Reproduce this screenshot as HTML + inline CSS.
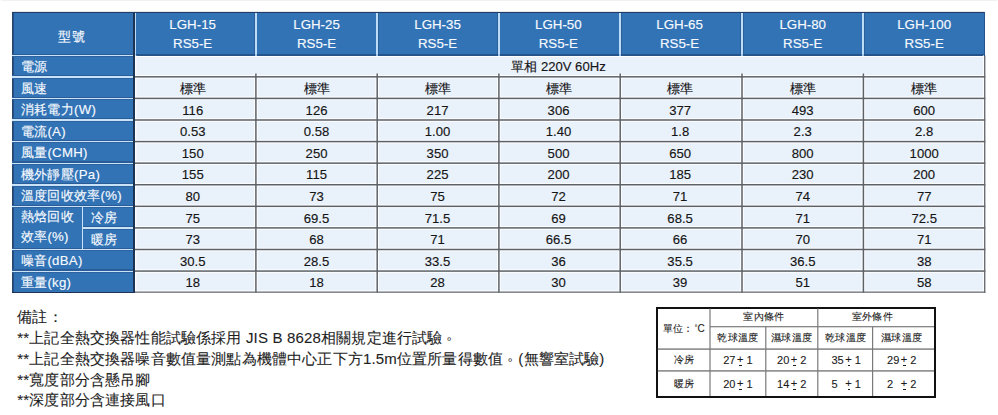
<!DOCTYPE html>
<html><head><meta charset="utf-8"><style>
html,body{margin:0;padding:0;background:#fff;}
body{width:998px;height:415px;position:relative;overflow:hidden;font-family:"Liberation Sans",sans-serif;}
body>div{position:absolute;box-sizing:border-box;}
svg{position:absolute;left:0;top:0;}
.hw{color:#f7faff;-webkit-text-stroke:0.15px #f7faff;}
.dk{color:#151515;-webkit-text-stroke:0.15px #151515;}
.cell{display:flex;align-items:center;font-size:13.1px;white-space:nowrap;}
.lab{font-size:13.2px;letter-spacing:0.3px;}
.c{justify-content:center;}
.hdr{display:flex;align-items:center;justify-content:center;text-align:center;font-size:13.3px;line-height:18.8px;white-space:nowrap;}
.pd{position:relative;left:3.5px;top:-3.8px;}
.note{letter-spacing:0.17px;font-size:15px;color:#1e1e1e;white-space:nowrap;line-height:20px;-webkit-text-stroke:0.1px #1e1e1e;}
.sm{display:flex;align-items:center;justify-content:center;font-size:10px;letter-spacing:0.3px;color:#1a1a1a;white-space:nowrap;-webkit-text-stroke:0.1px #1a1a1a;}
.sm b{font-weight:normal;font-size:11px;letter-spacing:0;}
.pm{position:relative;display:inline-block;margin:0 0 0 1.5px;top:-1.3px;}
.pm i{position:absolute;left:2.3px;width:2.6px;bottom:-1px;height:1px;background:#1a1a1a;}
</style></head><body>
<div style="left:1.00px;top:0.00px;width:996.00px;height:1.00px;background:#f1f1f1;"></div>
<div style="left:12.00px;top:11.00px;width:973.40px;height:1.00px;background:#e8e8e8;"></div>
<div style="left:12.00px;top:12.00px;width:973.40px;height:44.00px;background:#3273b5;"></div>
<div style="left:12.00px;top:55.40px;width:122.60px;height:237.40px;background:#3273b5;"></div>
<div style="left:134.60px;top:56.00px;width:850.80px;height:236.80px;background:#e9f1fb;"></div>
<div style="left:133.00px;top:12.00px;width:3.20px;height:43.40px;background:#2b5f9a;"></div>
<div style="left:133.60px;top:12.00px;width:2.00px;height:43.40px;background:#bcdcf7;"></div>
<div style="left:254.30px;top:12.00px;width:3.20px;height:43.40px;background:#2b5f9a;"></div>
<div style="left:254.90px;top:12.00px;width:2.00px;height:43.40px;background:#bcdcf7;"></div>
<div style="left:375.60px;top:12.00px;width:3.20px;height:43.40px;background:#2b5f9a;"></div>
<div style="left:376.20px;top:12.00px;width:2.00px;height:43.40px;background:#bcdcf7;"></div>
<div style="left:497.30px;top:12.00px;width:3.20px;height:43.40px;background:#2b5f9a;"></div>
<div style="left:497.90px;top:12.00px;width:2.00px;height:43.40px;background:#bcdcf7;"></div>
<div style="left:618.60px;top:12.00px;width:3.20px;height:43.40px;background:#2b5f9a;"></div>
<div style="left:619.20px;top:12.00px;width:2.00px;height:43.40px;background:#bcdcf7;"></div>
<div style="left:740.40px;top:12.00px;width:3.20px;height:43.40px;background:#2b5f9a;"></div>
<div style="left:741.00px;top:12.00px;width:2.00px;height:43.40px;background:#bcdcf7;"></div>
<div style="left:861.80px;top:12.00px;width:3.20px;height:43.40px;background:#2b5f9a;"></div>
<div style="left:862.40px;top:12.00px;width:2.00px;height:43.40px;background:#bcdcf7;"></div>
<div style="left:12.00px;top:54.00px;width:973.40px;height:2.00px;background:#24548a;"></div>
<div style="left:133.60px;top:54.00px;width:2.00px;height:2.00px;background:#9cc6ec;"></div>
<div style="left:254.90px;top:54.00px;width:2.00px;height:2.00px;background:#9cc6ec;"></div>
<div style="left:376.20px;top:54.00px;width:2.00px;height:2.00px;background:#9cc6ec;"></div>
<div style="left:497.90px;top:54.00px;width:2.00px;height:2.00px;background:#9cc6ec;"></div>
<div style="left:619.20px;top:54.00px;width:2.00px;height:2.00px;background:#9cc6ec;"></div>
<div style="left:741.00px;top:54.00px;width:2.00px;height:2.00px;background:#9cc6ec;"></div>
<div style="left:862.40px;top:54.00px;width:2.00px;height:2.00px;background:#9cc6ec;"></div>
<div style="left:12.00px;top:12.00px;width:1.00px;height:280.80px;background:#2a4566;"></div>
<div style="left:13.00px;top:12.00px;width:1.00px;height:280.80px;background:#22508a;"></div>
<div style="left:12.00px;top:53.50px;width:121.20px;height:1.20px;background:#2a5d98;"></div>
<div style="left:12.00px;top:56.10px;width:121.20px;height:1.00px;background:#2d63a0;"></div>
<div style="left:12.00px;top:54.70px;width:121.20px;height:1.40px;background:#c8e3f8;"></div>
<div style="left:12.00px;top:75.08px;width:121.20px;height:1.20px;background:#2a5d98;"></div>
<div style="left:12.00px;top:77.68px;width:121.20px;height:1.00px;background:#2d63a0;"></div>
<div style="left:12.00px;top:76.28px;width:121.20px;height:1.40px;background:#c8e3f8;"></div>
<div style="left:12.00px;top:96.66px;width:121.20px;height:1.20px;background:#2a5d98;"></div>
<div style="left:12.00px;top:99.26px;width:121.20px;height:1.00px;background:#2d63a0;"></div>
<div style="left:12.00px;top:97.86px;width:121.20px;height:1.40px;background:#c8e3f8;"></div>
<div style="left:12.00px;top:118.25px;width:121.20px;height:1.20px;background:#2a5d98;"></div>
<div style="left:12.00px;top:120.85px;width:121.20px;height:1.00px;background:#2d63a0;"></div>
<div style="left:12.00px;top:119.45px;width:121.20px;height:1.40px;background:#c8e3f8;"></div>
<div style="left:12.00px;top:139.83px;width:121.20px;height:1.20px;background:#2a5d98;"></div>
<div style="left:12.00px;top:142.43px;width:121.20px;height:1.00px;background:#2d63a0;"></div>
<div style="left:12.00px;top:141.03px;width:121.20px;height:1.40px;background:#c8e3f8;"></div>
<div style="left:12.00px;top:161.41px;width:121.20px;height:1.20px;background:#2a5d98;"></div>
<div style="left:12.00px;top:164.01px;width:121.20px;height:1.00px;background:#2d63a0;"></div>
<div style="left:12.00px;top:162.61px;width:121.20px;height:1.40px;background:#c8e3f8;"></div>
<div style="left:12.00px;top:182.99px;width:121.20px;height:1.20px;background:#2a5d98;"></div>
<div style="left:12.00px;top:185.59px;width:121.20px;height:1.00px;background:#2d63a0;"></div>
<div style="left:12.00px;top:184.19px;width:121.20px;height:1.40px;background:#c8e3f8;"></div>
<div style="left:12.00px;top:204.57px;width:121.20px;height:1.20px;background:#2a5d98;"></div>
<div style="left:12.00px;top:207.17px;width:121.20px;height:1.00px;background:#2d63a0;"></div>
<div style="left:12.00px;top:205.77px;width:121.20px;height:1.40px;background:#c8e3f8;"></div>
<div style="left:82.30px;top:226.15px;width:50.90px;height:1.20px;background:#2a5d98;"></div>
<div style="left:82.30px;top:228.75px;width:50.90px;height:1.00px;background:#2d63a0;"></div>
<div style="left:82.30px;top:227.35px;width:50.90px;height:1.40px;background:#c8e3f8;"></div>
<div style="left:12.00px;top:247.74px;width:121.20px;height:1.20px;background:#2a5d98;"></div>
<div style="left:12.00px;top:250.34px;width:121.20px;height:1.00px;background:#2d63a0;"></div>
<div style="left:12.00px;top:248.94px;width:121.20px;height:1.40px;background:#c8e3f8;"></div>
<div style="left:12.00px;top:269.32px;width:121.20px;height:1.20px;background:#2a5d98;"></div>
<div style="left:12.00px;top:271.92px;width:121.20px;height:1.00px;background:#2d63a0;"></div>
<div style="left:12.00px;top:270.52px;width:121.20px;height:1.40px;background:#c8e3f8;"></div>
<div style="left:81.60px;top:206.47px;width:1.40px;height:43.16px;background:#c8e3f8;"></div>
<svg width="998" height="415" style="position:absolute;left:0;top:0"><rect x="134.60" y="74.98" width="850.80" height="3.70" fill="#fcfdff"/><rect x="134.60" y="96.56" width="850.80" height="3.70" fill="#fcfdff"/><rect x="134.60" y="118.15" width="850.80" height="3.70" fill="#fcfdff"/><rect x="134.60" y="139.73" width="850.80" height="3.70" fill="#fcfdff"/><rect x="134.60" y="161.31" width="850.80" height="3.70" fill="#fcfdff"/><rect x="134.60" y="182.89" width="850.80" height="3.70" fill="#fcfdff"/><rect x="134.60" y="204.47" width="850.80" height="3.70" fill="#fcfdff"/><rect x="134.60" y="226.05" width="850.80" height="3.70" fill="#fcfdff"/><rect x="134.60" y="247.64" width="850.80" height="3.70" fill="#fcfdff"/><rect x="134.60" y="269.22" width="850.80" height="3.70" fill="#fcfdff"/><rect x="254.05" y="73.48" width="3.70" height="219.32" fill="#fcfdff"/><rect x="375.35" y="73.48" width="3.70" height="219.32" fill="#fcfdff"/><rect x="497.05" y="73.48" width="3.70" height="219.32" fill="#fcfdff"/><rect x="618.35" y="73.48" width="3.70" height="219.32" fill="#fcfdff"/><rect x="740.15" y="73.48" width="3.70" height="219.32" fill="#fcfdff"/><rect x="861.55" y="73.48" width="3.70" height="219.32" fill="#fcfdff"/><rect x="134.60" y="56.00" width="850.80" height="1.00" fill="#ffffff"/><rect x="134.60" y="55.40" width="1.80" height="237.40" fill="#ffffff"/><rect x="982.90" y="55.40" width="2.50" height="237.40" fill="#fcfdff"/><rect x="134.60" y="290.40" width="850.80" height="2.40" fill="#fcfdff"/><rect x="134.10" y="76.08" width="851.30" height="1.50" fill="#5c6268"/><rect x="134.10" y="97.66" width="851.30" height="1.50" fill="#5c6268"/><rect x="134.10" y="119.25" width="851.30" height="1.50" fill="#5c6268"/><rect x="134.10" y="140.83" width="851.30" height="1.50" fill="#5c6268"/><rect x="134.10" y="162.41" width="851.30" height="1.50" fill="#5c6268"/><rect x="134.10" y="183.99" width="851.30" height="1.50" fill="#5c6268"/><rect x="134.10" y="205.57" width="851.30" height="1.50" fill="#5c6268"/><rect x="134.10" y="227.15" width="851.30" height="1.50" fill="#5c6268"/><rect x="134.10" y="248.74" width="851.30" height="1.50" fill="#5c6268"/><rect x="134.10" y="270.32" width="851.30" height="1.50" fill="#5c6268"/><rect x="255.15" y="73.48" width="1.50" height="219.32" fill="#5c6268"/><rect x="376.45" y="73.48" width="1.50" height="219.32" fill="#5c6268"/><rect x="498.15" y="73.48" width="1.50" height="219.32" fill="#5c6268"/><rect x="619.45" y="73.48" width="1.50" height="219.32" fill="#5c6268"/><rect x="741.25" y="73.48" width="1.50" height="219.32" fill="#5c6268"/><rect x="862.65" y="73.48" width="1.50" height="219.32" fill="#5c6268"/><rect x="984.00" y="55.40" width="1.40" height="237.40" fill="#6a6e73"/><rect x="134.60" y="291.50" width="850.80" height="1.30" fill="#6a6e73"/></svg>
<div style="left:133.00px;top:12.50px;width:1.80px;height:280.30px;background:#1c3354;"></div>
<div style="left:12.00px;top:12.00px;width:973.40px;height:1.00px;background:#1f3d66;"></div>
<div style="left:984.40px;top:12.00px;width:1.00px;height:44.00px;background:#24548a;"></div>
<div style="left:12.00px;top:291.80px;width:122.60px;height:1.00px;background:#1c3354;"></div>
<div class="hw cell c lab" style="left:10.30px;top:15.80px;width:122.60px;height:43.40px;">型號</div>
<div class="hw hdr" style="left:132.00px;top:13.00px;width:121.30px;height:43.40px;">LGH-15<br>RS5-E</div>
<div class="hw hdr" style="left:255.90px;top:13.00px;width:121.30px;height:43.40px;">LGH-25<br>RS5-E</div>
<div class="hw hdr" style="left:376.70px;top:13.00px;width:121.70px;height:43.40px;">LGH-35<br>RS5-E</div>
<div class="hw hdr" style="left:497.70px;top:13.00px;width:121.30px;height:43.40px;">LGH-50<br>RS5-E</div>
<div class="hw hdr" style="left:618.70px;top:13.00px;width:121.80px;height:43.40px;">LGH-65<br>RS5-E</div>
<div class="hw hdr" style="left:742.00px;top:13.00px;width:121.40px;height:43.40px;">LGH-80<br>RS5-E</div>
<div class="hw hdr" style="left:863.40px;top:13.00px;width:121.60px;height:43.40px;">LGH-100<br>RS5-E</div>
<div class="hw cell lab" style="left:12.00px;top:56.20px;width:122.60px;height:21.58px;padding-left:8.8px;">電源</div>
<div class="hw cell lab" style="left:12.00px;top:77.78px;width:122.60px;height:21.58px;padding-left:8.8px;">風速</div>
<div class="hw cell lab" style="left:12.00px;top:99.36px;width:122.60px;height:21.58px;padding-left:8.8px;">消耗電力(W)</div>
<div class="hw cell lab" style="left:12.00px;top:120.95px;width:122.60px;height:21.58px;padding-left:8.8px;">電流(A)</div>
<div class="hw cell lab" style="left:12.00px;top:142.53px;width:122.60px;height:21.58px;padding-left:8.8px;">風量(CMH)</div>
<div class="hw cell lab" style="left:12.00px;top:164.11px;width:122.60px;height:21.58px;padding-left:8.8px;">機外靜壓(Pa)</div>
<div class="hw cell lab" style="left:12.00px;top:185.69px;width:122.60px;height:21.58px;padding-left:8.8px;">溫度回收效率(%)</div>
<div class="hw cell lab" style="left:12.00px;top:250.44px;width:122.60px;height:21.58px;padding-left:8.8px;">噪音(dBA)</div>
<div class="hw cell lab" style="left:12.00px;top:272.02px;width:122.60px;height:21.58px;padding-left:8.8px;">重量(kg)</div>
<div class="hw cell lab" style="left:12.00px;top:205.87px;width:70.30px;height:21.58px;padding-left:8.8px;">熱焓回收</div>
<div class="hw cell lab" style="left:12.00px;top:226.55px;width:70.30px;height:21.58px;padding-left:8.8px;">效率(%)</div>
<div class="hw cell lab" style="left:82.30px;top:207.27px;width:52.30px;height:21.58px;padding-left:8.6px;">冷房</div>
<div class="hw cell lab" style="left:82.30px;top:228.85px;width:52.30px;height:21.58px;padding-left:8.6px;">暖房</div>
<div class="dk cell c" style="left:133.10px;top:56.20px;width:850.80px;height:21.58px;">單相 220V 60Hz</div>
<div class="dk cell c" style="left:132.10px;top:77.78px;width:121.30px;height:21.58px;">標準</div>
<div class="dk cell c" style="left:255.90px;top:77.78px;width:121.30px;height:21.58px;">標準</div>
<div class="dk cell c" style="left:376.70px;top:77.78px;width:121.70px;height:21.58px;">標準</div>
<div class="dk cell c" style="left:497.90px;top:77.78px;width:121.30px;height:21.58px;">標準</div>
<div class="dk cell c" style="left:619.20px;top:77.78px;width:121.80px;height:21.58px;">標準</div>
<div class="dk cell c" style="left:742.00px;top:77.78px;width:121.40px;height:21.58px;">標準</div>
<div class="dk cell c" style="left:863.40px;top:77.78px;width:121.60px;height:21.58px;">標準</div>
<div class="dk cell c" style="left:132.10px;top:99.36px;width:121.30px;height:21.58px;">116</div>
<div class="dk cell c" style="left:255.90px;top:99.36px;width:121.30px;height:21.58px;">126</div>
<div class="dk cell c" style="left:376.70px;top:99.36px;width:121.70px;height:21.58px;">217</div>
<div class="dk cell c" style="left:497.90px;top:99.36px;width:121.30px;height:21.58px;">306</div>
<div class="dk cell c" style="left:619.20px;top:99.36px;width:121.80px;height:21.58px;">377</div>
<div class="dk cell c" style="left:742.00px;top:99.36px;width:121.40px;height:21.58px;">493</div>
<div class="dk cell c" style="left:863.40px;top:99.36px;width:121.60px;height:21.58px;">600</div>
<div class="dk cell c" style="left:132.10px;top:120.95px;width:121.30px;height:21.58px;">0.53</div>
<div class="dk cell c" style="left:255.90px;top:120.95px;width:121.30px;height:21.58px;">0.58</div>
<div class="dk cell c" style="left:376.70px;top:120.95px;width:121.70px;height:21.58px;">1.00</div>
<div class="dk cell c" style="left:497.90px;top:120.95px;width:121.30px;height:21.58px;">1.40</div>
<div class="dk cell c" style="left:619.20px;top:120.95px;width:121.80px;height:21.58px;">1.8</div>
<div class="dk cell c" style="left:742.00px;top:120.95px;width:121.40px;height:21.58px;">2.3</div>
<div class="dk cell c" style="left:863.40px;top:120.95px;width:121.60px;height:21.58px;">2.8</div>
<div class="dk cell c" style="left:132.10px;top:142.53px;width:121.30px;height:21.58px;">150</div>
<div class="dk cell c" style="left:255.90px;top:142.53px;width:121.30px;height:21.58px;">250</div>
<div class="dk cell c" style="left:376.70px;top:142.53px;width:121.70px;height:21.58px;">350</div>
<div class="dk cell c" style="left:497.90px;top:142.53px;width:121.30px;height:21.58px;">500</div>
<div class="dk cell c" style="left:619.20px;top:142.53px;width:121.80px;height:21.58px;">650</div>
<div class="dk cell c" style="left:742.00px;top:142.53px;width:121.40px;height:21.58px;">800</div>
<div class="dk cell c" style="left:863.40px;top:142.53px;width:121.60px;height:21.58px;">1000</div>
<div class="dk cell c" style="left:132.10px;top:164.11px;width:121.30px;height:21.58px;">155</div>
<div class="dk cell c" style="left:255.90px;top:164.11px;width:121.30px;height:21.58px;">115</div>
<div class="dk cell c" style="left:376.70px;top:164.11px;width:121.70px;height:21.58px;">225</div>
<div class="dk cell c" style="left:497.90px;top:164.11px;width:121.30px;height:21.58px;">200</div>
<div class="dk cell c" style="left:619.20px;top:164.11px;width:121.80px;height:21.58px;">185</div>
<div class="dk cell c" style="left:742.00px;top:164.11px;width:121.40px;height:21.58px;">230</div>
<div class="dk cell c" style="left:863.40px;top:164.11px;width:121.60px;height:21.58px;">200</div>
<div class="dk cell c" style="left:132.10px;top:185.69px;width:121.30px;height:21.58px;">80</div>
<div class="dk cell c" style="left:255.90px;top:185.69px;width:121.30px;height:21.58px;">73</div>
<div class="dk cell c" style="left:376.70px;top:185.69px;width:121.70px;height:21.58px;">75</div>
<div class="dk cell c" style="left:497.90px;top:185.69px;width:121.30px;height:21.58px;">72</div>
<div class="dk cell c" style="left:619.20px;top:185.69px;width:121.80px;height:21.58px;">71</div>
<div class="dk cell c" style="left:742.00px;top:185.69px;width:121.40px;height:21.58px;">74</div>
<div class="dk cell c" style="left:863.40px;top:185.69px;width:121.60px;height:21.58px;">77</div>
<div class="dk cell c" style="left:132.10px;top:207.27px;width:121.30px;height:21.58px;">75</div>
<div class="dk cell c" style="left:255.90px;top:207.27px;width:121.30px;height:21.58px;">69.5</div>
<div class="dk cell c" style="left:376.70px;top:207.27px;width:121.70px;height:21.58px;">71.5</div>
<div class="dk cell c" style="left:497.90px;top:207.27px;width:121.30px;height:21.58px;">69</div>
<div class="dk cell c" style="left:619.20px;top:207.27px;width:121.80px;height:21.58px;">68.5</div>
<div class="dk cell c" style="left:742.00px;top:207.27px;width:121.40px;height:21.58px;">71</div>
<div class="dk cell c" style="left:863.40px;top:207.27px;width:121.60px;height:21.58px;">72.5</div>
<div class="dk cell c" style="left:132.10px;top:228.85px;width:121.30px;height:21.58px;">73</div>
<div class="dk cell c" style="left:255.90px;top:228.85px;width:121.30px;height:21.58px;">68</div>
<div class="dk cell c" style="left:376.70px;top:228.85px;width:121.70px;height:21.58px;">71</div>
<div class="dk cell c" style="left:497.90px;top:228.85px;width:121.30px;height:21.58px;">66.5</div>
<div class="dk cell c" style="left:619.20px;top:228.85px;width:121.80px;height:21.58px;">66</div>
<div class="dk cell c" style="left:742.00px;top:228.85px;width:121.40px;height:21.58px;">70</div>
<div class="dk cell c" style="left:863.40px;top:228.85px;width:121.60px;height:21.58px;">71</div>
<div class="dk cell c" style="left:132.10px;top:250.44px;width:121.30px;height:21.58px;">30.5</div>
<div class="dk cell c" style="left:255.90px;top:250.44px;width:121.30px;height:21.58px;">28.5</div>
<div class="dk cell c" style="left:376.70px;top:250.44px;width:121.70px;height:21.58px;">33.5</div>
<div class="dk cell c" style="left:497.90px;top:250.44px;width:121.30px;height:21.58px;">36</div>
<div class="dk cell c" style="left:619.20px;top:250.44px;width:121.80px;height:21.58px;">35.5</div>
<div class="dk cell c" style="left:742.00px;top:250.44px;width:121.40px;height:21.58px;">36.5</div>
<div class="dk cell c" style="left:863.40px;top:250.44px;width:121.60px;height:21.58px;">38</div>
<div class="dk cell c" style="left:132.10px;top:272.02px;width:121.30px;height:21.58px;">18</div>
<div class="dk cell c" style="left:255.90px;top:272.02px;width:121.30px;height:21.58px;">18</div>
<div class="dk cell c" style="left:376.70px;top:272.02px;width:121.70px;height:21.58px;">28</div>
<div class="dk cell c" style="left:497.90px;top:272.02px;width:121.30px;height:21.58px;">30</div>
<div class="dk cell c" style="left:619.20px;top:272.02px;width:121.80px;height:21.58px;">39</div>
<div class="dk cell c" style="left:742.00px;top:272.02px;width:121.40px;height:21.58px;">51</div>
<div class="dk cell c" style="left:863.40px;top:272.02px;width:121.60px;height:21.58px;">58</div>
<div class="note" style="left:17.2px;top:306.80px;">備註：</div>
<div class="note" style="left:17.2px;top:327.70px;">**上記全熱交換器性能試驗係採用 JIS B 8628相關規定進行試驗<span class="pd">。</span></div>
<div class="note" style="left:17.2px;top:348.60px;">**上記全熱交換器噪音數值量測點為機體中心正下方1.5m位置所量得數值<span class="pd">。</span>(無響室試驗)</div>
<div class="note" style="left:17.2px;top:369.50px;">**寬度部分含懸吊腳</div>
<div class="note" style="left:17.2px;top:390.40px;">**深度部分含連接風口</div>
<div style="left:655.80px;top:306.50px;width:280.20px;height:91.50px;background:#fff;box-sizing:border-box;border:2.2px solid #111;"></div>
<svg width="998" height="415"><rect x="709.40" y="308.50" width="1.20" height="87.50" fill="#7a7a7a"/><rect x="817.20" y="308.50" width="1.20" height="87.50" fill="#7a7a7a"/><rect x="765.20" y="326.70" width="1.20" height="69.30" fill="#7a7a7a"/><rect x="872.00" y="326.70" width="1.20" height="69.30" fill="#7a7a7a"/><rect x="710.00" y="326.10" width="224.00" height="1.20" fill="#7a7a7a"/><rect x="657.80" y="348.40" width="276.20" height="1.40" fill="#7a7a7a"/><rect x="657.80" y="370.20" width="276.20" height="1.40" fill="#7a7a7a"/></svg>
<div class="sm" style="left:656.60px;top:307.70px;width:54.20px;height:42.60px;">單位：<b style="font-size:10px"><span style="font-size:7px;position:relative;top:-2px;margin-left:1px">°</span>C</b></div>
<div class="sm" style="left:710.00px;top:306.50px;width:107.80px;height:20.20px;">室內條件</div>
<div class="sm" style="left:813.30px;top:306.50px;width:118.20px;height:20.20px;">室外條件</div>
<div class="sm" style="left:710.00px;top:326.70px;width:55.80px;height:22.40px;">乾球溫度</div>
<div class="sm" style="left:765.80px;top:326.70px;width:52.00px;height:22.40px;">濕球溫度</div>
<div class="sm" style="left:818.30px;top:326.70px;width:54.80px;height:22.40px;">乾球溫度</div>
<div class="sm" style="left:870.10px;top:326.70px;width:63.40px;height:22.40px;">濕球溫度</div>
<div class="sm" style="left:656.80px;top:349.10px;width:54.20px;height:21.80px;">冷房</div>
<div class="sm" style="left:656.80px;top:370.90px;width:54.20px;height:27.10px;">暖房</div>
<div class="sm" style="left:710.00px;top:349.10px;width:55.80px;height:21.80px;"><b>27<span class="pm">+<i></i></span>&nbsp;1</b></div>
<div class="sm" style="left:710.00px;top:370.90px;width:55.80px;height:27.10px;"><b>20<span class="pm">+<i></i></span>&nbsp;1</b></div>
<div class="sm" style="left:765.80px;top:349.10px;width:52.00px;height:21.80px;"><b>20<span class="pm">+<i></i></span>&nbsp;2</b></div>
<div class="sm" style="left:765.80px;top:370.90px;width:52.00px;height:27.10px;"><b>14<span class="pm">+<i></i></span>&nbsp;2</b></div>
<div class="sm" style="left:818.80px;top:349.10px;width:54.80px;height:21.80px;"><b>35<span class="pm">+<i></i></span>&nbsp;1</b></div>
<div class="sm" style="left:818.80px;top:370.90px;width:54.80px;height:27.10px;"><b>5&nbsp;&nbsp;<span class="pm">+<i></i></span>&nbsp;1</b></div>
<div class="sm" style="left:870.10px;top:349.10px;width:63.40px;height:21.80px;"><b>29<span class="pm">+<i></i></span>&nbsp;2</b></div>
<div class="sm" style="left:870.10px;top:370.90px;width:63.40px;height:27.10px;"><b>2&nbsp;&nbsp;<span class="pm">+<i></i></span>&nbsp;2</b></div>
</body></html>
